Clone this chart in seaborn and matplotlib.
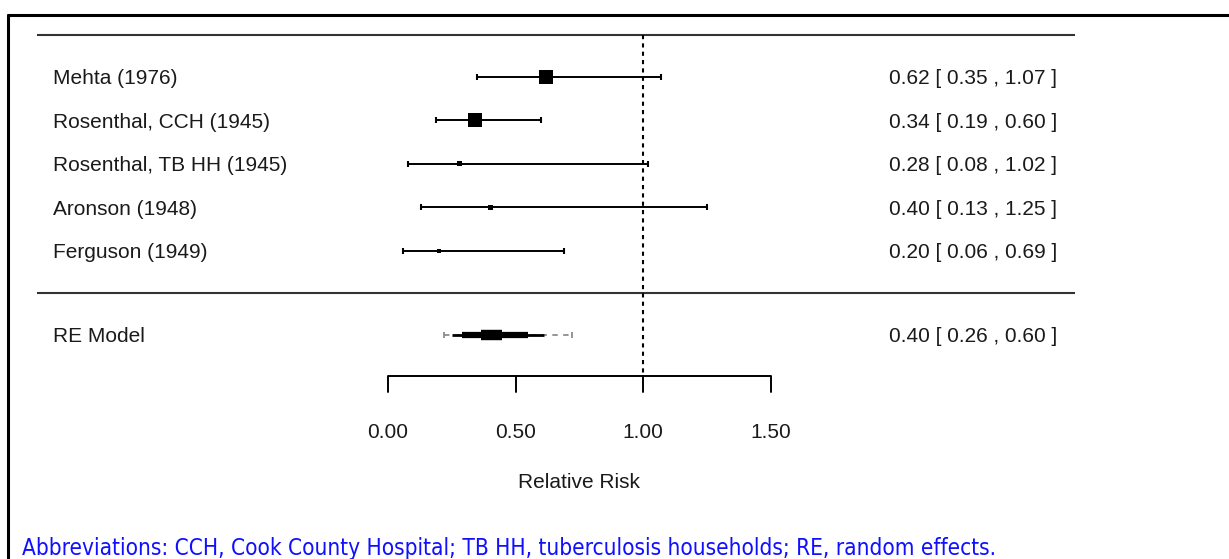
import matplotlib
matplotlib.use("Agg")
import matplotlib.pyplot as plt
from matplotlib.lines import Line2D
import seaborn as sns
import pandas as pd

# ---- data ----
studies = ["Mehta (1976)", "Rosenthal, CCH (1945)", "Rosenthal, TB HH (1945)",
           "Aronson (1948)", "Ferguson (1949)"]
rr = [0.62, 0.34, 0.28, 0.40, 0.20]
ci_lo = [0.35, 0.19, 0.08, 0.13, 0.06]
ci_hi = [1.07, 0.60, 1.02, 1.25, 0.69]
box_px = [14, 14, 5, 5, 4]          # marker side (weight display)

re_label = "RE Model"
re_est = 0.40
re_ci = (0.26, 0.60)
re_pi = (0.22, 0.72)
re_inner = (0.29, 0.55)
re_box = (0.365, 0.447)

xticks = [0.0, 0.5, 1.0, 1.5]
xtick_labels = ["0.00", "0.50", "1.00", "1.50"]
xlabel = "Relative Risk"
footnote = "Abbreviations: CCH, Cook County Hospital; TB HH, tuberculosis households; RE, random effects."

# ---- layout ----
W, H = 1229, 559
sns.set_theme(style="white")
plt.rcParams['font.family'] = ['Liberation Sans', 'DejaVu Sans']
fig = plt.figure(figsize=(W / 100, H / 100), dpi=100)
ax = fig.add_axes([0, 0, 1, 1])
ax.axis("off")

x0px, unit = 388, 255.0
y0px, step = 77, 43.5
ax.set_xlim(-x0px / unit, (W - x0px) / unit)
ax.set_ylim((H - y0px) / step, -y0px / step)

def xd(px):
    return (px - x0px) / unit

def yd(py):
    return (py - y0px) / step

rows = list(range(len(studies)))
re_row = yd(335)
FS = 15
TXT = "#1a1a1a"
dy = 2 / step   # text baseline nudge

# outer frame
fig.add_artist(Line2D([8 / W, 1.0], [1 - 15 / H, 1 - 15 / H], color="black", lw=2.2,
                      transform=fig.transFigure))
fig.add_artist(Line2D([8 / W, 8 / W], [1 - 15 / H, 0], color="black", lw=2.2,
                      transform=fig.transFigure))

# horizontal rules
for py in (35, 293):
    ax.plot([xd(37), xd(1075)], [yd(py), yd(py)], color="#333333", lw=1.5,
            solid_capstyle="butt")

# reference line
ax.plot([1.0, 1.0], [yd(35), yd(376)], color="black", lw=1.5, ls=(0, (2, 2)))

# study CIs
for r, lo, hi in zip(rows, ci_lo, ci_hi):
    ax.plot([lo, hi], [r, r], color="black", lw=1.4, solid_capstyle="butt")
    ax.plot([lo, hi], [r, r], ls="none", marker="|", ms=5, mew=1.5, color="black")

df = pd.DataFrame({"study": studies, "rr": rr, "row": rows})
sizes = {s: (p * 0.72) ** 2 for s, p in zip(studies, box_px)}
sns.scatterplot(data=df, x="rr", y="row", size="study", sizes=sizes, marker="s",
                color="black", edgecolor="black", linewidth=0, legend=False, ax=ax,
                zorder=5)

# RE model summary
ax.plot(list(re_pi), [re_row, re_row], color="#8c8c8c", lw=1.3, ls=(0, (3, 3)))
ax.plot(list(re_pi), [re_row, re_row], ls="none", marker="|", ms=5, mew=1.3,
        color="#8c8c8c")
ax.plot([re_ci[0] - 0.01, re_ci[1] + 0.01], [re_row, re_row], color="black", lw=2.0,
        solid_capstyle="butt")
ax.plot(list(re_inner), [re_row, re_row], color="black", lw=4.5, solid_capstyle="butt")
ax.plot(list(re_box), [re_row, re_row], color="black", lw=7.5, solid_capstyle="butt")

# labels
for r, s in zip(rows, studies):
    ax.text(xd(53), r + dy, s, ha="left", va="center", fontsize=FS, color=TXT)
ax.text(xd(53), re_row + dy, re_label, ha="left", va="center", fontsize=FS, color=TXT)

for r, e, lo, hi in zip(rows, rr, ci_lo, ci_hi):
    ax.text(xd(1057), r + dy, f"{e:.2f} [ {lo:.2f} , {hi:.2f} ]", ha="right",
            va="center", fontsize=FS, color=TXT)
ax.text(xd(1057), re_row + dy, f"{re_est:.2f} [ {re_ci[0]:.2f} , {re_ci[1]:.2f} ]",
        ha="right", va="center", fontsize=FS, color=TXT)

# x axis
ay = yd(376)
ax.plot([xticks[0], xticks[-1]], [ay, ay], color="black", lw=1.4, solid_capstyle="butt")
for t, lab in zip(xticks, xtick_labels):
    ax.plot([t, t], [ay, yd(392)], color="black", lw=1.4)
    ax.text(t, yd(430) + dy, lab, ha="center", va="center", fontsize=FS, color=TXT)
ax.text((xticks[0] + xticks[-1]) / 2, yd(480) + dy, xlabel, ha="center", va="center",
        fontsize=FS, color=TXT)

# footnote
ft = fig.text(22 / W, 1 - 548 / H, footnote, ha="left", va="center", fontsize=14,
              color="#1010ff", family=["DejaVu Sans"], fontstretch="condensed")
fig.canvas.draw()
w = ft.get_window_extent().width
ft.set_fontsize(14 * 981 / w)

fig.savefig("out.png", dpi=100, facecolor="white")
